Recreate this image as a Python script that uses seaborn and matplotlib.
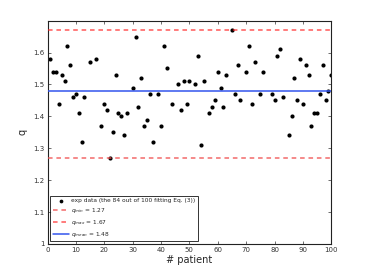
import numpy as np
import pandas as pd
import matplotlib
matplotlib.use("Agg")
import matplotlib.pyplot as plt
import seaborn as sns

sns.set_style("ticks")
plt.rcParams["font.family"] = ["DejaVu Sans"]

# patients whose data fit Eq. (3), with their q values
patient = [
    1, 2, 3, 4, 5, 6, 7, 8, 9, 10, 11, 12, 13, 15, 17, 19, 20, 21,
    22, 23, 24, 25, 26, 27, 28, 30, 31, 32, 33, 34, 35, 36, 37, 39, 40,
    41, 42, 44, 46, 47, 48, 49, 50, 52, 53, 54, 55, 57, 58, 59, 60, 61,
    62, 63, 65, 66, 67, 68, 70, 71, 72, 73, 75, 76, 79, 80, 81, 82,
    83, 85, 86, 87, 88, 89, 90, 91, 92, 93, 94, 95, 96, 97, 98, 99, 100,
]
q = [
    1.58, 1.54, 1.54, 1.44, 1.53, 1.51, 1.62, 1.56, 1.46, 1.47, 1.41, 1.32, 1.46, 1.57, 1.58, 1.37, 1.44, 1.42,
    1.27, 1.35, 1.53, 1.41, 1.40, 1.34, 1.41, 1.49, 1.65, 1.43, 1.52, 1.37, 1.39, 1.47, 1.32, 1.47, 1.37,
    1.62, 1.55, 1.44, 1.50, 1.42, 1.51, 1.44, 1.51, 1.50, 1.59, 1.31, 1.51, 1.41, 1.43, 1.45, 1.54, 1.49,
    1.43, 1.53, 1.67, 1.47, 1.56, 1.45, 1.54, 1.62, 1.44, 1.57, 1.47, 1.54, 1.47, 1.45, 1.59, 1.61,
    1.46, 1.34, 1.40, 1.52, 1.45, 1.58, 1.44, 1.56, 1.53, 1.37, 1.41, 1.41, 1.47, 1.56, 1.45, 1.48, 1.53,
]
q_min = 1.27
q_max = 1.67
q_mean = 1.48

df = pd.DataFrame({"patient": patient, "q": q})

fig = plt.figure(figsize=(3.66, 2.75), dpi=100)
ax = fig.add_axes([0.130, 0.113, 0.775, 0.812])

sns.scatterplot(
    data=df, x="patient", y="q", ax=ax,
    color="black", s=9, linewidth=0, zorder=2,
    label="exp data (the 84 out of 100 fitting Eq. (3))",
)
ax.axhline(q_min, color="#f05050", ls=(0, (3, 2.5)), lw=1.1, alpha=0.85, zorder=3,
           label=r"$q_{min}$ = 1.27")
ax.axhline(q_max, color="#ff2020", ls=(0, (3, 2.5)), lw=1.1, alpha=0.75, zorder=3,
           label=r"$q_{max}$ = 1.67")
ax.axhline(q_mean, color="#3355ee", lw=1.1, zorder=3,
           label=r"$q_{mean}$ = 1.48")

ax.set_xlim(0, 100)
ax.set_ylim(1, 1.7)
ax.set_xticks(range(0, 101, 10))
ax.set_yticks([1, 1.1, 1.2, 1.3, 1.4, 1.5, 1.6])
ax.set_yticklabels(["1", "1.1", "1.2", "1.3", "1.4", "1.5", "1.6"])
ax.tick_params(direction="in", length=2.5, width=0.5, labelsize=5,
               top=True, right=True, pad=2, colors="#333333", labelcolor="#333333")
for s in ax.spines.values():
    s.set_linewidth(0.8)
    s.set_color("#222222")

ax.set_xlabel("# patient", fontsize=7, labelpad=2)
ax.set_ylabel("q", fontsize=7, labelpad=4)

leg = ax.legend(loc="lower left", fontsize=4.2, frameon=True, fancybox=False,
                edgecolor="black", handlelength=2.9, handletextpad=0.35,
                borderpad=0.35, labelspacing=0.5, borderaxespad=0.5,
                markerscale=0.9)
leg.get_frame().set_linewidth(0.7)

fig.savefig("out.png", dpi=100)
